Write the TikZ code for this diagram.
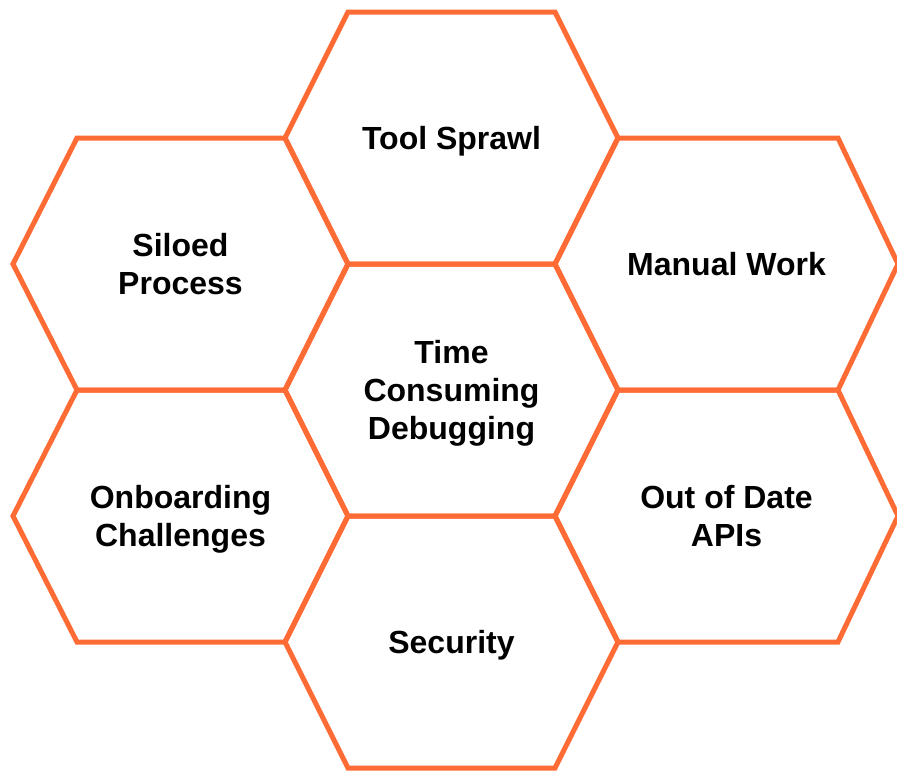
\documentclass[tikz,border=0pt]{standalone}
\usepackage{fontspec}
\setmainfont{Liberation Sans}
\usepackage{tikz}
\definecolor{hexorange}{HTML}{FF6B35}
\newcommand{\cellrise}{126}
\tikzstyle{cell}=[draw=hexorange, line width=5pt, line join=miter]
\tikzstyle{celllabel}=[align=center, inner sep=0, text=black, text depth=0pt,
                       font=\bfseries\fontsize{32}{38}\selectfont]
\tikzstyle{honeycomb}=[x=1pt, y=-1pt,
                       % Fix the margins of the page.
                       execute at begin picture={\useasboundingbox (0,0) rectangle (897,771);}]

\begin{document}
\begin{tikzpicture}[honeycomb]
    % left point / top left / top right / right point / centre y
    \foreach \l/\tl/\tr/\r/\cy/\name/\txt in {
        285/348/555/618/138/sprawl/{Tool Sprawl},
        13/77/285/348/264/siloed/{Siloed\\Process},
        555/618/838/898/264/manual/{Manual Work},
        285/348/555/618/390/debug/{Time\\Consuming\\Debugging},
        13/77/285/348/516/onboard/{Onboarding\\Challenges},
        555/618/838/898/516/apis/{Out of Date\\APIs},
        285/348/555/618/642/security/{Security}} {
        \draw[cell] (\l,\cy) -- (\tl,\cy-\cellrise) -- (\tr,\cy-\cellrise)
            -- (\r,\cy) -- (\tr,\cy+\cellrise) -- (\tl,\cy+\cellrise) -- cycle;
        \node[celllabel] (\name) at ({(\l+\r)/2},\cy) {\txt};
    }
\end{tikzpicture}
\end{document}
